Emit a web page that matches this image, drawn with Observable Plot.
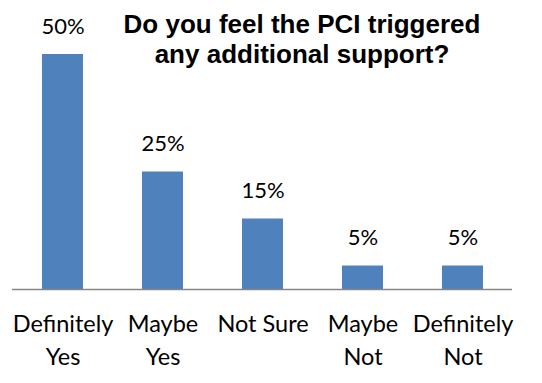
<!DOCTYPE html>
<html>
<head>
<meta charset="utf-8">
<script src="https://cdn.jsdelivr.net/npm/d3@7"></script>
<script src="https://cdn.jsdelivr.net/npm/@observablehq/plot@0.6"></script>
<style>
  html, body { margin: 0; padding: 0; background: #fff; }
  #wrap { position: relative; width: 542px; height: 383px; }
  #title {
    position: absolute; left: 102px; width: 400px; top: 9px;
    text-align: center; font-family: "Liberation Sans", Arial, sans-serif;
    font-weight: bold; font-size: 26px; line-height: 30px; color: #000;
    letter-spacing: 0;
  }
</style>
</head>
<body>
<div id="wrap">
  <div id="chart"></div>
  <div id="title">Do you feel the PCI triggered<br>any additional support?</div>
</div>
<script>
const categories = ["Definitely Yes", "Maybe Yes", "Not Sure", "Maybe Not", "Definitely Not"];
const tickLabels = ["Definitely\nYes", "Maybe\nYes", "Not Sure", "Maybe\nNot", "Definitely\nNot"];
const values = [50, 25, 15, 5, 5];

const data = categories.map((c, i) => ({category: c, value: values[i]}));
const labelOf = new Map(categories.map((c, i) => [c, tickLabels[i]]));

const chart = Plot.plot({
  width: 542,
  height: 383,
  marginLeft: 12,
  marginRight: 30,
  marginTop: 7,
  marginBottom: 94,
  style: {fontFamily: "Lato, sans-serif", background: "#fff"},
  x: {domain: categories, paddingInner: 0.59, paddingOuter: 0.295, axis: null},
  y: {domain: [0, 60], axis: null},
  marks: [
    Plot.barY(data, {x: "category", y: "value", fill: "#4F81BD"}),
    Plot.ruleY([0], {stroke: "#868686", strokeWidth: 1.3}),
    Plot.text(data, {x: "category", y: "value", text: d => d.value + "%", lineAnchor: "bottom", dy: -21, fontSize: 22, fill: "#000"}),
    Plot.axisX({tickSize: 0, tickPadding: 19, fontSize: 23.5, lineHeight: 1.4, label: null, tickFormat: d => labelOf.get(d), fill: "#000"})
  ]
});
document.getElementById("chart").appendChild(chart);
</script>
</body>
</html>
